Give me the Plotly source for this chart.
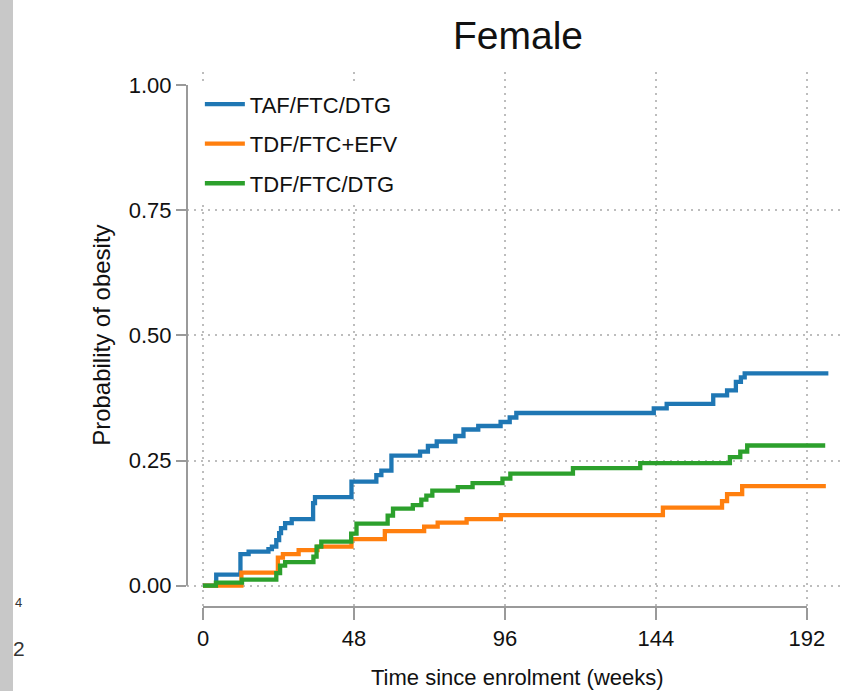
import plotly.graph_objects as go

# ---- data ----
series_names = ["TAF/FTC/DTG", "TDF/FTC+EFV", "TDF/FTC/DTG"]
series_colors = ["#1f77b4", "#ff7f0e", "#2ca02c"]

taf_weeks = [0, 4.2, 11.9, 14.5, 20.8, 21.9, 23.3, 24.2, 24.8, 26.1, 28.2, 35.0, 35.6,
             47.2, 55.1, 56.7, 59.9, 69.0, 71.5, 74.3, 80.2, 82.8, 87.5, 94.6, 97.5,
             99.6, 143.3, 147.4, 162.2, 166.6, 169.4, 171.0, 172.2, 198.8]
taf_prob = [0, 0.022, 0.063, 0.068, 0.073, 0.078, 0.091, 0.105, 0.115, 0.125, 0.133, 0.165,
            0.177, 0.208, 0.221, 0.230, 0.260, 0.268, 0.279, 0.288, 0.299, 0.312, 0.319,
            0.327, 0.336, 0.345, 0.354, 0.363, 0.380, 0.390, 0.407, 0.416, 0.424, 0.424]

efv_weeks = [0, 12.2, 23.8, 25.4, 30.4, 36.4, 47.2, 57.8, 70.3, 74.6, 83.8, 94.7, 146.2,
             165.0, 166.6, 171.4, 198.0]
efv_prob = [0, 0.026, 0.056, 0.063, 0.071, 0.078, 0.093, 0.109, 0.118, 0.126, 0.133, 0.141,
            0.156, 0.169, 0.183, 0.199, 0.199]

tdf_weeks = [0, 4.1, 12.4, 23.3, 24.5, 26.1, 35.1, 36.1, 37.6, 47.1, 48.8, 58.7, 60.4, 66.7,
             69.4, 71.0, 72.9, 81.0, 85.7, 95.2, 97.7, 117.6, 139.0, 167.5, 170.8, 173.0, 197.8]
tdf_prob = [0, 0.006, 0.012, 0.025, 0.040, 0.047, 0.058, 0.078, 0.088, 0.104, 0.124, 0.140,
            0.154, 0.161, 0.172, 0.180, 0.190, 0.197, 0.205, 0.214, 0.224, 0.235, 0.245,
            0.257, 0.268, 0.280, 0.280]

x_ticks = [0, 48, 96, 144, 192]
y_ticks = [0, 0.25, 0.5, 0.75, 1.0]
y_ticklabels = ["0.00", "0.25", "0.50", "0.75", "1.00"]

title_text = "Female"
x_title = "Time since enrolment (weeks)"
y_title = "Probability of obesity"

NARROW = "Liberation Sans Narrow, Arial Narrow, Liberation Sans, Arial, sans-serif"
REGULAR = "Liberation Sans, Arial, sans-serif"
AXIS_GRAY = "#9a9a9a"
GRID_GRAY = "#bdbdbd"
TEXT = "#111111"

fig = go.Figure()
all_x = [taf_weeks, efv_weeks, tdf_weeks]
all_y = [taf_prob, efv_prob, tdf_prob]
for i, (name, col) in enumerate(zip(series_names, series_colors)):
    fig.add_trace(go.Scatter(
        x=all_x[i], y=all_y[i], mode="lines", name=name,
        line=dict(color=col, width=4.3, shape="hv"),
        legendgroup=f"g{i}",
    ))

fig.update_layout(
    width=843, height=691,
    margin=dict(l=187, r=3, t=72, b=84),
    paper_bgcolor="white", plot_bgcolor="white",
    font=dict(family=NARROW, size=22, color=TEXT),
    title=dict(text=title_text, font=dict(family=NARROW, size=39, color=TEXT),
               x=518 / 843, xref="container", xanchor="center",
               y=1 - 35 / 691, yref="container", yanchor="middle"),
    showlegend=True,
    legend=dict(x=0.0197, y=0.979, xanchor="left", yanchor="top",
                bgcolor="white", borderwidth=0,
                font=dict(family=NARROW, size=22, color=TEXT),
                traceorder="grouped", tracegroupgap=8, itemwidth=40),
)

fig.update_xaxes(
    range=[-5.09, 202.5], tickmode="array", tickvals=x_ticks,
    ticktext=[str(v) for v in x_ticks],
    showgrid=True, gridcolor=GRID_GRAY, gridwidth=1.5, griddash="1.5px,5.5px",
    zeroline=False, showline=False,
    ticks="outside", ticklen=12, tickwidth=2, tickcolor=AXIS_GRAY,
    tickfont=dict(family=NARROW, size=22, color=TEXT),
)
fig.update_yaxes(
    range=[-0.0425, 1.026], tickmode="array", tickvals=y_ticks, ticktext=y_ticklabels,
    showgrid=False, zeroline=False, showline=False,
    ticks="outside", ticklen=10, tickwidth=2, tickcolor=AXIS_GRAY,
    tickfont=dict(family=NARROW, size=22, color=TEXT),
    minor=dict(tickmode="array", tickvals=y_ticks[:-1], showgrid=True,
               gridcolor=GRID_GRAY, gridwidth=1.5, griddash="1.5px,5.5px", ticks=""),
)

# Stata-style axis lines spanning only the labelled range
fig.add_shape(type="line", xref="paper", yref="y", x0=0, x1=0, y0=0, y1=1,
              line=dict(color=AXIS_GRAY, width=2))
fig.add_shape(type="line", xref="x", yref="paper", x0=0, x1=192, y0=0, y1=0,
              line=dict(color=AXIS_GRAY, width=2))

# axis titles
fig.add_annotation(text=x_title, xref="paper", yref="paper",
                   x=(517 - 187) / 653, y=-(677 - 607) / 535,
                   xanchor="center", yanchor="middle", showarrow=False,
                   font=dict(family=NARROW, size=22, color=TEXT))
fig.add_annotation(text=y_title, xref="paper", yref="y",
                   x=(101.5 - 187) / 653, y=0.5, textangle=-90,
                   xanchor="center", yanchor="middle", showarrow=False,
                   font=dict(family=REGULAR, size=24, color=TEXT))

# artefacts at the left edge of the reference image
fig.add_shape(type="rect", xref="paper", yref="paper",
              x0=-187 / 653, x1=(13 - 187) / 653, y0=-84 / 535, y1=(72 + 535) / 535,
              line=dict(width=0), fillcolor="#c8c8c8", layer="below")
fig.add_annotation(text="4", xref="paper", yref="paper",
                   x=(18 - 187) / 653, y=-(602 - 607) / 535,
                   xanchor="center", yanchor="middle", showarrow=False,
                   font=dict(family=REGULAR, size=13, color="#333333"))
fig.add_annotation(text="2", xref="paper", yref="paper",
                   x=(19 - 187) / 653, y=-(648 - 607) / 535,
                   xanchor="center", yanchor="middle", showarrow=False,
                   font=dict(family=REGULAR, size=21, color="#333333"))

fig.write_html(
    "out.html",
    config={"displayModeBar": False},
    post_script="document.body.style.margin='0';document.body.style.overflow='hidden';",
)
